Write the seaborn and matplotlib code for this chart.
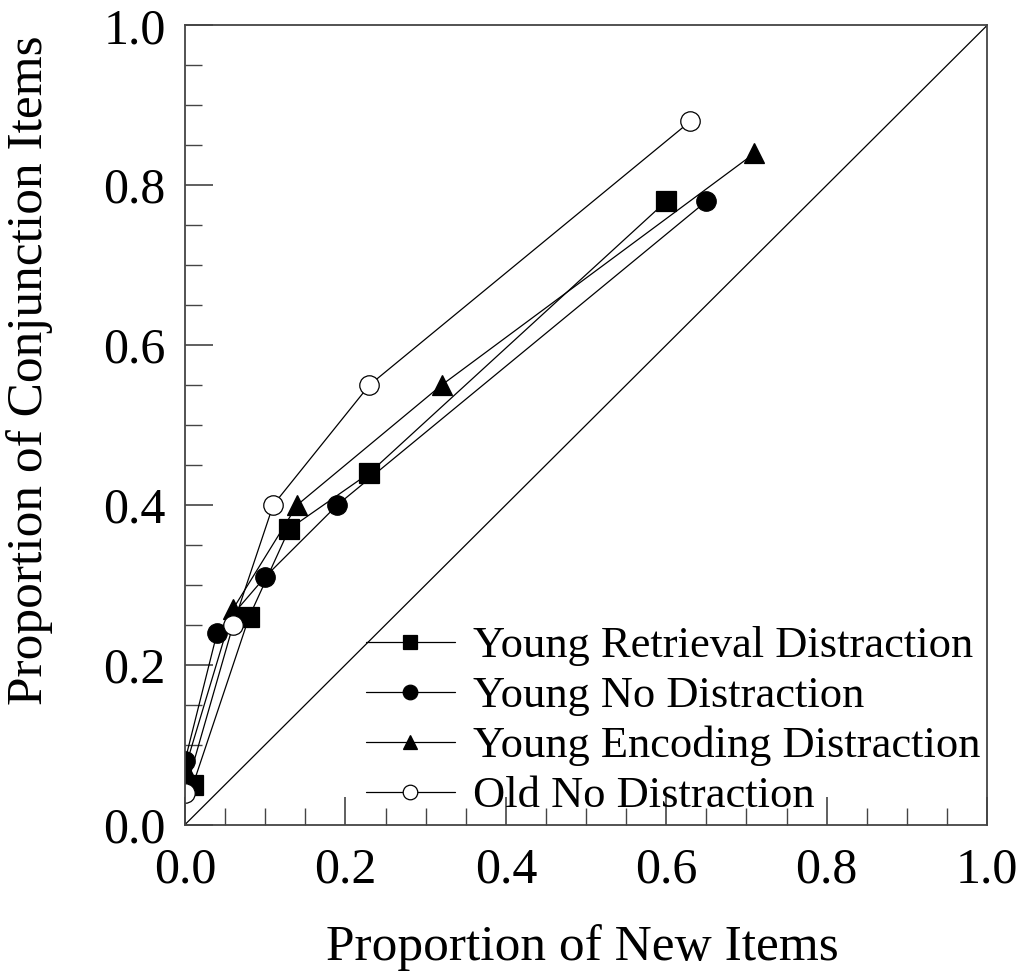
import numpy as np
import pandas as pd
import matplotlib
matplotlib.use("Agg")
import matplotlib.pyplot as plt
from matplotlib.ticker import MultipleLocator
import seaborn as sns

# data (x = proportion new, y = proportion conjunction)
series_names = ["Young Retrieval Distraction", "Young No Distraction",
                "Young Encoding Distraction", "Old No Distraction"]
retrieval_x = [0.01, 0.08, 0.13, 0.23, 0.60]
retrieval_y = [0.05, 0.26, 0.37, 0.44, 0.78]
nodist_x = [0.00, 0.04, 0.10, 0.19, 0.65]
nodist_y = [0.08, 0.24, 0.31, 0.40, 0.78]
encoding_x = [0.00, 0.06, 0.14, 0.32, 0.71]
encoding_y = [0.07, 0.27, 0.40, 0.55, 0.84]
old_x = [0.00, 0.06, 0.11, 0.23, 0.63]
old_y = [0.04, 0.25, 0.40, 0.55, 0.88]
tick_vals = [0.0, 0.2, 0.4, 0.6, 0.8, 1.0]

sns.set_style("ticks")
plt.rcParams['font.family'] = ['Liberation Serif', 'DejaVu Serif']
plt.rcParams['text.color'] = 'black'
plt.rcParams['axes.labelcolor'] = 'black'
plt.rcParams['xtick.color'] = '#444444'
plt.rcParams['ytick.color'] = '#444444'
plt.rcParams['xtick.labelcolor'] = 'black'
plt.rcParams['ytick.labelcolor'] = 'black'

tick_fs = 36
xlabel_fs = 37
ylabel_fs = 37
legend_fs = 32

fig = plt.figure(figsize=(10.25, 9.77), dpi=100)
ax = fig.add_axes([0.1805, 0.156, 0.7825, 0.818])

# chance diagonal
ax.plot([0, 1], [0, 1], color="black", lw=0.9)

styles = [("s", "black"), ("o", "black"), ("^", "black"), ("o", "white")]
xs = [retrieval_x, nodist_x, encoding_x, old_x]
ys = [retrieval_y, nodist_y, encoding_y, old_y]
for name, x, y, (mk, fc) in zip(series_names, xs, ys, styles):
    df = pd.DataFrame({"x": x, "y": y})
    sns.lineplot(data=df, x="x", y="y", ax=ax, sort=False, estimator=None,
                 color="black", lw=0.9, marker=mk, markersize=14,
                 markerfacecolor=fc, markeredgecolor="black",
                 markeredgewidth=0.9, label=name)

ax.set_xlim(0, 1)
ax.set_ylim(0, 1)
ax.set_xticks(tick_vals)
ax.set_yticks(tick_vals)
ax.set_xticklabels([f"{v:.1f}" for v in tick_vals])
ax.set_yticklabels([f"{v:.1f}" for v in tick_vals])
ax.xaxis.set_minor_locator(MultipleLocator(0.05))
ax.yaxis.set_minor_locator(MultipleLocator(0.05))
ax.tick_params(which="major", direction="in", length=20, width=1.2,
               labelsize=tick_fs)
ax.tick_params(axis="x", which="major", pad=16)
ax.tick_params(axis="y", which="major", pad=14)
ax.tick_params(which="minor", direction="in", length=12, width=1.0)
for sp in ax.spines.values():
    sp.set_linewidth(1.3)
    sp.set_color("#444444")

ax.set_xlabel("Proportion of New Items", fontsize=xlabel_fs)
ax.xaxis.set_label_coords(0.495, -0.125)
ax.set_ylabel("Proportion of Conjunction Items", fontsize=ylabel_fs)
ax.yaxis.set_label_coords(-0.165, 0.569)

ax.legend(loc="lower right", frameon=False, fontsize=legend_fs,
          handlelength=2.0, handletextpad=0.4, labelspacing=0.22,
          borderaxespad=0.1, markerscale=0.75,
          bbox_to_anchor=(1.019, -0.0175))

fig.savefig("out.png", dpi=100)
